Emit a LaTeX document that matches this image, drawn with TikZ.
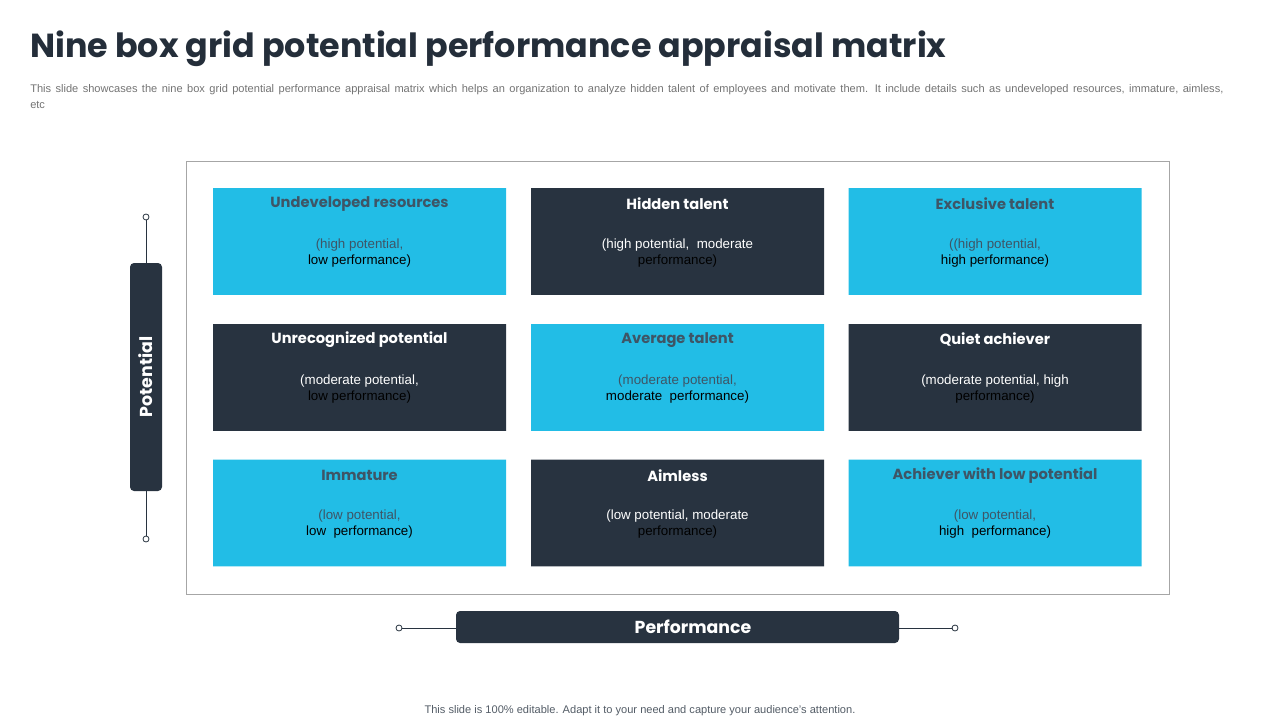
\documentclass[tikz,border=0pt]{standalone}
\usepackage{fontspec}
\setmainfont{Liberation Sans}
\newfontfamily\headf{Poppins}
\usetikzlibrary{shapes.misc}
\definecolor{cy}{HTML}{22BDE6}
\definecolor{dk}{HTML}{283340}
\definecolor{gtx}{HTML}{3E5566}
\begin{document}
\begin{tikzpicture}[x=0.75pt,y=-0.75pt,
 cell/.style={chamfered rectangle,chamfered rectangle corners={north east,south west},chamfered rectangle xsep=14pt,chamfered rectangle ysep=14pt,minimum width=219.75pt,minimum height=80pt,inner sep=0pt,draw=none},
 lt/.style={cell,fill=cy},
 dkb/.style={cell,fill=dk},
 bar/.style={fill=dk,rounded corners=3pt,draw=none},
 dot/.style={circle,draw=dk,fill=white,inner sep=0pt,minimum size=4.5pt,line width=0.6pt}]
\useasboundingbox (0,0) rectangle (1280,720);
\node[anchor=west,inner sep=0] (title) at (30,49) {\headf\bfseries\fontsize{25}{30}\selectfont\color{dk!90!black}Nine box grid potential performance appraisal matrix};
\node[anchor=north west,inner sep=0,text width=900pt,align=left] (sub) at (30,84) {\fontsize{8.3}{10}\selectfont\color{gray!90!black}This slide showcases the nine box grid potential performance appraisal matrix which helps an organization to analyze hidden talent of employees and motivate them. It include details such as undeveloped resources, immature, aimless, etc};
\draw[gray!70,line width=0.6pt] (186,161) rectangle (1169,594);
\newcommand\cellbox[6]{%
 \node[#1] (#2) at (#3) {};
 \node[anchor=center,align=center,inner sep=0] at ([yshift=-12pt]#2.north) {\headf\bfseries\fontsize{11}{13}\selectfont\color{#6}#4};
 \node[anchor=north,align=center,inner sep=0] at ([yshift=-38pt]#2.north) {\fontsize{10}{12}\selectfont\color{#6}#5};}
\cellbox{lt}{b1}{359.5,241.5}{Undeveloped resources}{(high potential,\\low performance)}{gtx}
\cellbox{dkb}{b2}{677.5,241.5}{Hidden talent}{(high potential,\ \ moderate\\performance)}{white}
\cellbox{lt}{b3}{995,241.5}{Exclusive talent}{((high potential,\\high performance)}{gtx}
\cellbox{dkb}{b4}{359.5,377.5}{Unrecognized potential}{(moderate potential,\\low performance)}{white}
\cellbox{lt}{b5}{677.5,377.5}{Average talent}{(moderate potential,\\moderate\ \ performance)}{gtx}
\cellbox{dkb}{b6}{995,377.5}{Quiet achiever}{(moderate potential, high\\performance)}{white}
\cellbox{lt}{b7}{359.5,513}{Immature}{(low potential,\\low\ \ performance)}{gtx}
\cellbox{dkb}{b8}{677.5,513}{Aimless}{(low potential, moderate\\performance)}{white}
\cellbox{lt}{b9}{995,513}{Achiever with low potential}{(low potential,\\high\ \ performance)}{gtx}
% potential axis
\coordinate (pt) at (146,217); \coordinate (pb) at (146,539);
\draw[dk,line width=0.6pt] (pt) -- (pb);
\node[dot] at (pt) {}; \node[dot] at (pb) {};
\draw[bar] (130,263) rectangle (162,491);
\node[rotate=90,inner sep=0] (pot) at (146,377) {\headf\bfseries\fontsize{13}{15}\selectfont\color{white}Potential};
% performance axis
\coordinate (pl) at (399,628); \coordinate (pr) at (955,628);
\draw[dk,line width=0.6pt] (pl) -- (pr);
\node[dot] at (pl) {}; \node[dot] at (pr) {};
\draw[bar] (456,611) rectangle (899,643);
\node[inner sep=0] (perf) at (693,627) {\headf\bfseries\fontsize{13}{15}\selectfont\color{white}Performance};
\node[inner sep=0] (foot) at (640,711) {\fontsize{8.3}{10}\selectfont\color{dk!80}This slide is 100\% editable. Adapt it to your need and capture your audience's attention.};
\end{tikzpicture}
\end{document}
